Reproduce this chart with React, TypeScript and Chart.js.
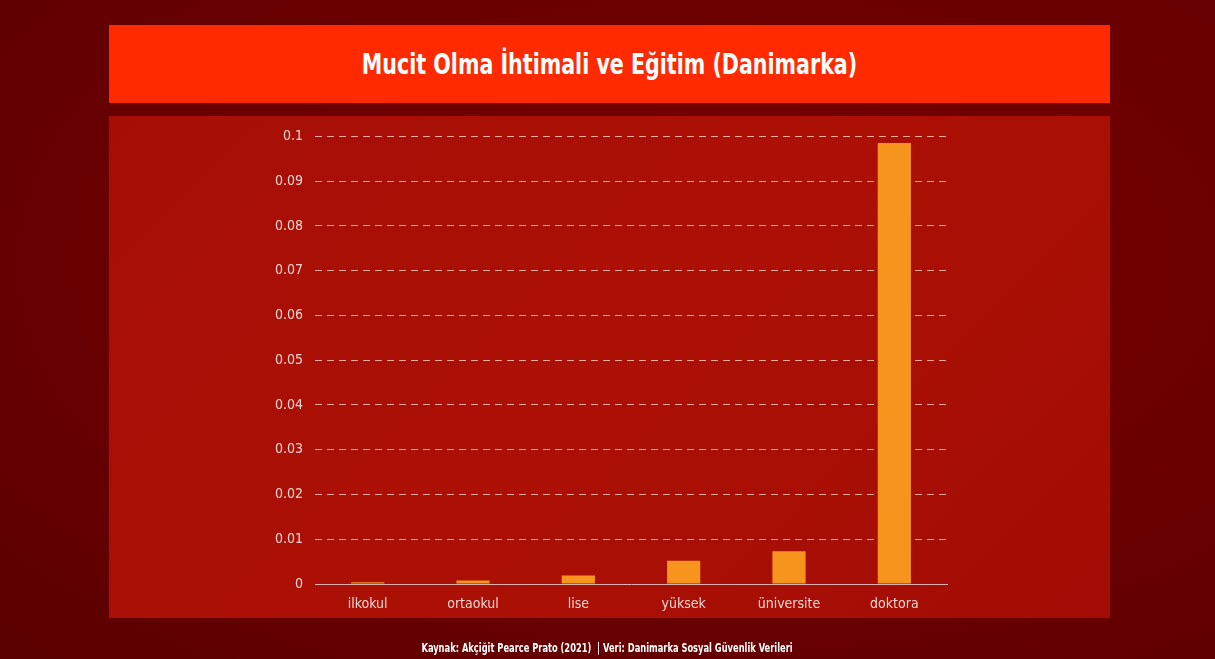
import React, { useEffect, useRef } from "react";
import { Chart, registerables } from "chart.js";

Chart.register(...registerables);

const categories = ["ilkokul", "ortaokul", "lise", "yüksek", "üniversite", "doktora"];
const values = [0.0004, 0.0008, 0.0019, 0.0052, 0.0073, 0.0985];
const yTicks = [0, 0.01, 0.02, 0.03, 0.04, 0.05, 0.06, 0.07, 0.08, 0.09, 0.1];

const FONT = "'DejaVu Sans Condensed', 'Liberation Sans Narrow', 'Roboto', sans-serif";

export default function App() {
  const ref = useRef<HTMLCanvasElement | null>(null);
  useEffect(() => {
    if (!ref.current) return;
    const chart = new Chart(ref.current, {
      type: "bar",
      data: {
        labels: categories,
        datasets: [
          {
            data: values,
            backgroundColor: "#f7941e",
            barPercentage: 0.63,
            categoryPercentage: 0.5,
          },
        ],
      },
      options: {
        animation: false,
        responsive: false,
        maintainAspectRatio: false,
        layout: { padding: { left: 0, right: 163, top: 20, bottom: 0 } },
        plugins: { legend: { display: false }, tooltip: { enabled: false } },
        scales: {
          x: {
            grid: { display: false, drawTicks: false },
            border: { display: true, color: "rgba(225,205,205,0.85)", width: 1 },
            ticks: { color: "#f3d6d2", font: { family: FONT, size: 14 }, padding: 12 },
            afterFit: (s: any) => {
              s.height = 34;
            },
          },
          y: {
            min: 0,
            max: 0.1,
            afterBuildTicks: (s: any) => {
              s.ticks = yTicks.map((v) => ({ value: v }));
            },
            grid: {
              color: (ctx: any) => (ctx.tick && ctx.tick.value === 0 ? "rgba(0,0,0,0)" : "rgba(255,205,195,0.8)"),
              drawTicks: false,
              lineWidth: 1,
            },
            border: { display: false, dash: [7, 5] },
            ticks: {
              color: "#f3d6d2",
              font: { family: FONT, size: 14 },
              padding: 12,
              callback: (v: any) => String(Number(v.toFixed(2))),
            },
            afterFit: (s: any) => {
              s.width = 206;
            },
          },
        },
      } as any,
    });
    return () => chart.destroy();
  }, []);

  return (
    <div
      style={{
        position: "fixed",
        left: 0,
        top: 0,
        width: 1215,
        height: 659,
        background: "radial-gradient(ellipse at 60% 40%, #7a0000 0%, #660000 70%, #5a0000 100%)",
        overflow: "hidden",
        fontFamily: FONT,
      }}
    >
      <div
        style={{
          position: "absolute",
          left: 109,
          top: 25,
          width: 1001,
          height: 78,
          background: "#ff2a00",
          display: "flex",
          alignItems: "center",
          justifyContent: "center",
        }}
      >
        <span
          style={{
            color: "#ffffff",
            fontWeight: "bold",
            fontSize: 29,
            display: "inline-block",
            transform: "scaleX(0.79)",
            whiteSpace: "nowrap",
          }}
        >
          Mucit Olma İhtimali ve Eğitim (Danimarka)
        </span>
      </div>
      <div
        style={{
          position: "absolute",
          left: 109,
          top: 116,
          width: 1001,
          height: 502,
          background: "linear-gradient(135deg, #a60e05 0%, #ac1005 50%, #a30c04 100%)",
        }}
      >
        <canvas ref={ref} width={1001} height={502} style={{ display: "block" }} />
      </div>
      <div
        style={{
          position: "absolute",
          left: 0,
          top: 639,
          width: 1215,
          textAlign: "center",
          lineHeight: "16px",
        }}
      >
        <span
          style={{
            color: "#ffffff",
            fontSize: 12,
            fontWeight: "bold",
            display: "inline-block",
            transform: "scaleX(0.77)",
            whiteSpace: "nowrap",
          }}
        >
          Kaynak: Akçiğit Pearce Prato (2021)&nbsp; | Veri: Danimarka Sosyal Güvenlik Verileri
        </span>
      </div>
    </div>
  );
}
